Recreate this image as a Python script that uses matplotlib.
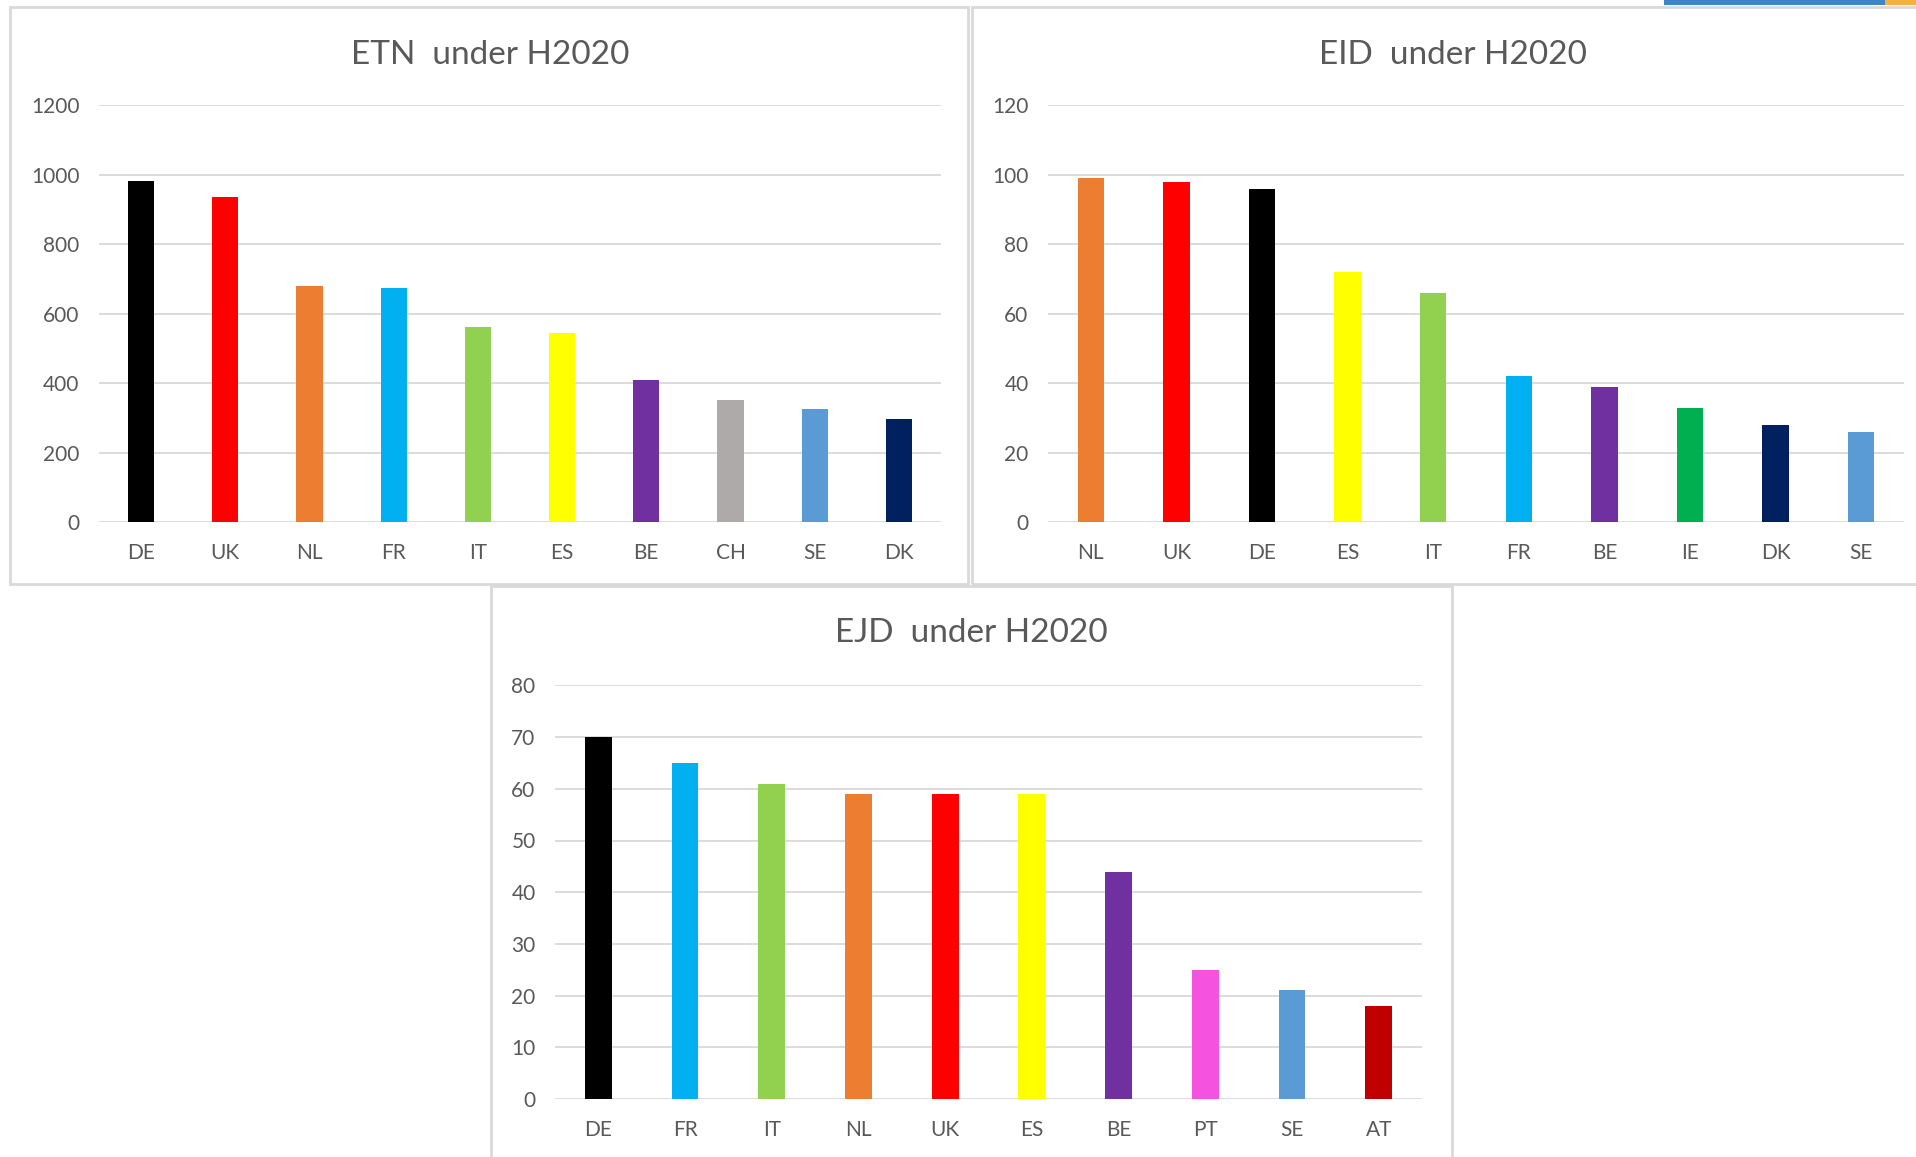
import matplotlib.pyplot as plt
from matplotlib.patches import Rectangle

plt.rcParams['font.family'] = ['Lato', 'DejaVu Sans']

# ETN under H2020
etn_countries = ['DE', 'UK', 'NL', 'FR', 'IT', 'ES', 'BE', 'CH', 'SE', 'DK']
etn_values = [981, 936, 680, 675, 563, 545, 411, 353, 327, 297]
etn_colors = ['#000000', '#FF0000', '#ED7D31', '#00B0F0', '#92D050',
              '#FFFF00', '#7030A0', '#AEAAAA', '#5B9BD5', '#002060']

# EID under H2020
eid_countries = ['NL', 'UK', 'DE', 'ES', 'IT', 'FR', 'BE', 'IE', 'DK', 'SE']
eid_values = [99, 98, 96, 72, 66, 42, 39, 33, 28, 26]
eid_colors = ['#ED7D31', '#FF0000', '#000000', '#FFFF00', '#92D050',
              '#00B0F0', '#7030A0', '#00B050', '#002060', '#5B9BD5']

# EJD under H2020
ejd_countries = ['DE', 'FR', 'IT', 'NL', 'UK', 'ES', 'BE', 'PT', 'SE', 'AT']
ejd_values = [70, 65, 61, 59, 59, 59, 44, 25, 21, 18]
ejd_colors = ['#000000', '#00B0F0', '#92D050', '#ED7D31', '#FF0000',
              '#FFFF00', '#7030A0', '#F652E0', '#5B9BD5', '#C00000']

W, H = 1916, 1157
fig = plt.figure(figsize=(W / 100, H / 100), dpi=100)
TEXT = '#595959'
GRID = '#D9D9D9'


def px_box(x0, y0, x1, y1):
    # pixel box (top-left origin) -> figure fraction rect
    return [x0 / W, 1 - y1 / H, (x1 - x0) / W, (y1 - y0) / H]


def frame(x0, y0, x1, y1):
    l, b, w, h = px_box(x0, y0, x1, y1)
    fig.patches.append(Rectangle((l, b), w, h, transform=fig.transFigure,
                                 fill=False, edgecolor=GRID, linewidth=2))


def chart(rect, cats, vals, cols, ymax, step, title, title_xy):
    ax = fig.add_axes(rect)
    ax.bar(range(len(cats)), vals, width=0.31, color=cols, zorder=3)
    ax.set_xlim(-0.5, len(cats) - 0.5)
    ax.set_ylim(0, ymax)
    ax.set_yticks(range(0, ymax + 1, step))
    ax.set_xticks(range(len(cats)))
    ax.set_xticklabels(cats)
    for s in ax.spines.values():
        s.set_visible(False)
    ax.yaxis.grid(True, color=GRID, linewidth=1.3, zorder=0)
    ax.set_axisbelow(True)
    ax.tick_params(axis='both', length=0, labelsize=15, labelcolor=TEXT)
    ax.tick_params(axis='y', pad=14)
    ax.tick_params(axis='x', pad=15)
    fig.text(title_xy[0] / W, 1 - title_xy[1] / H, title, ha='center',
             va='center', fontsize=24, color=TEXT)
    return ax


# chart frames
frame(10, 7, 968, 584)
frame(972, 7, 1920, 584)
frame(491, 586, 1452, 1160)

chart(px_box(99, 105.4, 941, 522.3), etn_countries, etn_values, etn_colors,
      1200, 200, 'ETN  under H2020', (490, 55))
chart(px_box(1048, 105.4, 1904, 522.3), eid_countries, eid_values, eid_colors,
      120, 20, 'EID  under H2020', (1453, 55))
chart(px_box(555, 685.4, 1422, 1099), ejd_countries, ejd_values, ejd_colors,
      80, 10, 'EJD  under H2020', (971, 633))

# bits of the slide showing at the top edge
l, b, w, h = px_box(1664, 0, 1885, 5)
fig.patches.append(Rectangle((l, b), w, h, transform=fig.transFigure,
                             color='#3D85C6', linewidth=0))
l, b, w, h = px_box(1885, 0, 1916, 5)
fig.patches.append(Rectangle((l, b), w, h, transform=fig.transFigure,
                             color='#F5B041', linewidth=0))

fig.savefig('out.png', dpi=100, facecolor='white')
